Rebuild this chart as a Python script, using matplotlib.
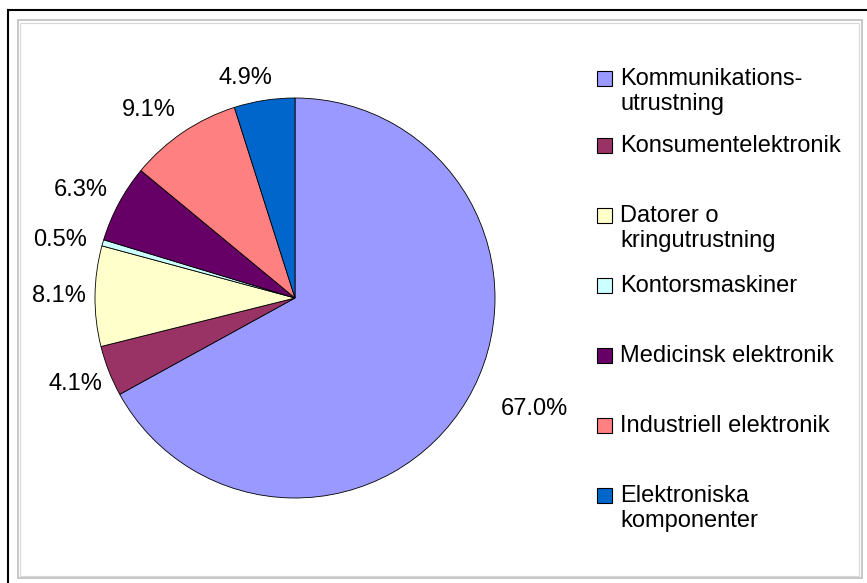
import matplotlib
matplotlib.use("Agg")
import matplotlib.pyplot as plt
import matplotlib.transforms as mtransforms
from matplotlib.patches import Rectangle
from matplotlib.lines import Line2D

plt.rcParams['font.family'] = ['Liberation Sans', 'DejaVu Sans']

#%% data
categories = ["Kommunikations-\nutrustning", "Konsumentelektronik", "Datorer o\nkringutrustning",
              "Kontorsmaskiner", "Medicinsk elektronik", "Industriell elektronik",
              "Elektroniska\nkomponenter"]
shares = [67.0, 4.1, 8.1, 0.5, 6.3, 9.1, 4.9]
colors = ["#9999FF", "#993366", "#FFFFCC", "#CCFFFF", "#660066", "#FF8080", "#0066CC"]

W, H = 867, 583
FS = 17
fig = plt.figure(figsize=(W / 100, H / 100), dpi=100)

# frame: black outer edge, gray inner border
fig.add_artist(Line2D([8 / W, 8 / W], [0, 1 - 10 / H], color='black', lw=1.5))
fig.add_artist(Line2D([8 / W, 1], [1 - 10 / H, 1 - 10 / H], color='black', lw=1.5))
fig.add_artist(Rectangle((18 / W, 5 / H), (862 - 18) / W, (563 - 5) / H, fill=False,
                         edgecolor='#bdbdbd', lw=1.2))
fig.add_artist(Rectangle((20 / W, 7 / H), (859 - 20) / W, (560 - 7) / H, fill=False,
                         edgecolor='#d8d8d8', lw=0.8))

#%% pie
cx, cy, r = 295, 298, 200
ax = fig.add_axes([(cx - r) / W, (H - cy - r) / H, 2 * r / W, 2 * r / H])
wedges, texts, autotexts = ax.pie(shares, colors=colors, startangle=90, counterclock=False,
                                  autopct='%.1f%%', pctdistance=1.18,
                                  wedgeprops=dict(edgecolor='black', linewidth=0.6))
for t in autotexts:
    t.set_fontsize(FS)
# the big label sits further out
x0, y0 = autotexts[0].get_position()
autotexts[0].set_position((x0 * 1.18, y0 * 0.92))
# small nudges (in pixels) for the upper-left labels, like Excel places them
nudge = {3: (-8, -7), 4: (-6, -4), 5: (-14, -8), 6: (-13, -13)}
for i, (dx, dy) in nudge.items():
    autotexts[i].set_transform(mtransforms.offset_copy(ax.transData, fig=fig,
                                                       x=dx, y=dy, units='dots'))
ax.set_xlim(-1, 1)
ax.set_ylim(-1, 1)
ax.set_aspect('equal')
ax.axis('off')

#%% legend, drawn by hand to keep Excel spacing
legend_y = [78, 145, 215, 285, 355, 425, 495]
for lab, col, y in zip(categories, colors, legend_y):
    fig.add_artist(Rectangle((597 / W, 1 - (y + 8) / H), 15 / W, 15 / H,
                             facecolor=col, edgecolor='black', lw=0.8))
    fig.text(620 / W, 1 - (y - 10) / H, lab, fontsize=FS, va='top', ha='left',
             linespacing=1.2)

fig.savefig('out.png', dpi=100)
